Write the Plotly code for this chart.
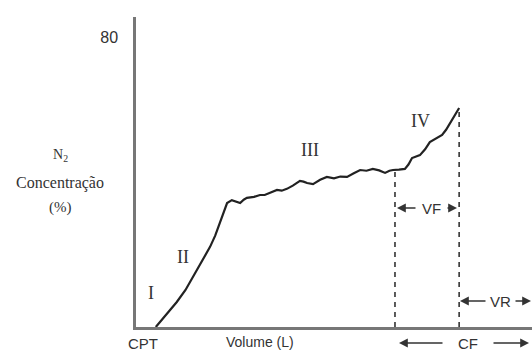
import plotly.graph_objects as go

# Curve: N2 concentration (%) vs expired volume (arbitrary units 0-100)
volume = [5.0, 7.5, 10.3, 12.5, 14.4, 16.5, 18.7, 20.0, 21.2, 22.2, 23.0, 24.2, 25.2, 26.3, 27.2,
          28.0, 29.8, 31.3, 32.5, 33.8, 35.6, 36.8, 38.1, 39.6, 41.4, 42.3, 43.2, 44.7, 46.5,
          48.2, 50.0, 51.6, 53.3, 55.0, 56.6, 58.2, 59.8, 61.4, 62.9, 64.0, 64.9, 66.4, 67.9,
          68.8, 69.7, 71.7, 73.0, 74.2, 75.8, 77.3, 78.3, 79.3, 80.5, 81.6]
n2_conc = [0.0, 3.2, 6.9, 10.2, 13.8, 17.6, 22.1, 25.2, 28.7, 31.6, 34.2, 35.0, 34.6, 34.2, 35.1,
           35.6, 35.9, 36.4, 36.4, 37.0, 37.8, 37.6, 38.1, 39.0, 40.3, 40.1, 39.7, 39.4, 40.6,
           41.4, 41.0, 41.5, 41.4, 42.4, 43.3, 43.1, 43.6, 43.2, 42.5, 43.1, 43.3, 43.4, 43.6,
           44.8, 46.6, 47.4, 49.0, 51.0, 52.0, 53.0, 54.4, 56.3, 58.2, 60.4]

# Closing volume / fluid volumes marker positions
x_vf_start = 65.4
y_vf_start = 42.8
x_end = 81.6
y_end = 60.4

y_ticks = [80]
y_tick_labels = ["80"]

AX_L, AX_R, AX_T, AX_B = 136, 532, 17, 327
X_MAX = 100.0
Y_MAX = 85.5


def px_x(px):
    return (px - AX_L) / (AX_R - AX_L)


def px_y(py):
    return (AX_B - py) / (AX_B - AX_T)


fig = go.Figure()
fig.add_trace(go.Scatter(x=volume, y=n2_conc, mode="lines",
                         line=dict(color="#222222", width=2.2), hoverinfo="skip",
                         showlegend=False))
for xv, yv in [(x_vf_start, y_vf_start), (x_end, y_end)]:
    fig.add_trace(go.Scatter(x=[xv, xv], y=[0, yv], mode="lines",
                             line=dict(color="#333333", width=1.6, dash="5px,5px"),
                             hoverinfo="skip", showlegend=False))

serif = "Liberation Serif, Times New Roman, serif"
sans = "Liberation Sans, Arial, sans-serif"
txt_col = "#333333"

ann = []


def text(px, py, s, font, size, yanchor="middle"):
    ann.append(dict(x=px_x(px), y=px_y(py), xref="paper", yref="paper", text=s,
                    showarrow=False, xanchor="center", yanchor=yanchor, borderpad=0,
                    font=dict(family=font, size=size, color=txt_col)))


def arrow(px_tail, px_head, py):
    ann.append(dict(x=px_x(px_head), y=px_y(py), ax=px_tail - px_head, ay=0,
                    xref="paper", yref="paper", axref="pixel", ayref="pixel", text="",
                    showarrow=True, arrowhead=2, arrowsize=1.1, arrowwidth=1.6,
                    arrowcolor="#333333"))


# Roman numerals
text(151, 293, "I", serif, 18)
text(183, 257, "II", serif, 18)
text(310, 150, "III", serif, 18)
text(420, 121, "IV", serif, 18)

# Y label
text(60, 155, "N<sub>2</sub>", serif, 14)
text(60, 183, "Concentração", serif, 16)
text(60, 207, "(%)", serif, 15)

# X axis texts
text(143, 343, "CPT", sans, 15)
text(260, 342, "Volume (L)", sans, 14)
text(468, 343, "CF", sans, 15)
text(431, 208, "VF", sans, 15)
text(500, 301, "VR", sans, 15)

# Arrows
arrow(417, 397, 208)
arrow(446, 457, 208)
arrow(487, 460, 301)
arrow(514, 531, 301)
arrow(444, 399, 343)
arrow(492, 529, 343)

fig.update_layout(
    width=532, height=352,
    margin=dict(l=AX_L, r=532 - AX_R, t=AX_T, b=352 - AX_B),
    paper_bgcolor="white", plot_bgcolor="white",
    annotations=ann,
    xaxis=dict(range=[0, X_MAX], showgrid=False, zeroline=False, showticklabels=False,
               showline=True, linecolor="#777777", linewidth=2.5, ticks="", fixedrange=True),
    yaxis=dict(range=[0, Y_MAX], showgrid=False, zeroline=False, showline=True,
               linecolor="#777777", linewidth=2.5, ticks="",
               tickvals=y_ticks, ticktext=y_tick_labels, ticklabelstandoff=12,
               tickfont=dict(family=sans, size=16, color=txt_col), fixedrange=True),
)

fig.write_html("out.html", config={"displayModeBar": False},
               post_script="document.body.style.margin='0';document.body.style.overflow='hidden';")
